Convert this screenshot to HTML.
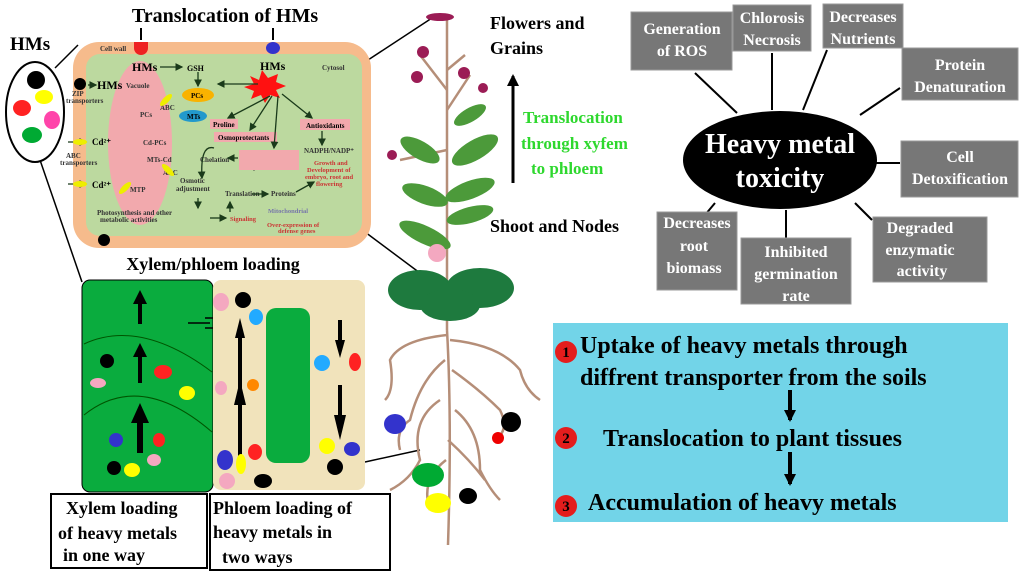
<!DOCTYPE html>
<html><head><style>body{margin:0;background:#fff}svg{display:block}text{font-family:"Liberation Serif",serif;font-weight:bold}</style></head><body>
<svg width="1024" height="579" viewBox="0 0 1024 579" xmlns="http://www.w3.org/2000/svg">
<defs><marker id="a" markerUnits="userSpaceOnUse" markerWidth="12" markerHeight="14" refX="10" refY="6" orient="auto"><path d="M0,0L12,6L0,12z" fill="#000"/></marker>
<marker id="g" markerWidth="6" markerHeight="6" refX="5" refY="3" orient="auto"><path d="M0,0L6,3L0,6z" fill="#1a3a1a"/></marker></defs>
<g stroke="#000" stroke-width="1.5" fill="none">
<path d="M55,68 L78,45"/><path d="M40,160 L82,282"/>
<path d="M368,60 L432,18"/><path d="M365,232 L432,282"/>
<path d="M365,462 L420,450"/>
</g>
<text x="225" y="22" font-size="20" text-anchor="middle">Translocation of HMs</text>
<text x="10" y="50" font-size="19">HMs</text>
<ellipse cx="35" cy="112" rx="29" ry="50" fill="#fff" stroke="#000" stroke-width="2"/>
<circle cx="36" cy="80" r="9" fill="#000"/><ellipse cx="44" cy="97" rx="9" ry="7" fill="#ff0"/>
<ellipse cx="22" cy="108" rx="9" ry="8" fill="#f22"/><ellipse cx="52" cy="120" rx="8" ry="9" fill="#f4a"/>
<ellipse cx="32" cy="135" rx="10" ry="8" fill="#0a3"/>
<rect x="73" y="42" width="298" height="206" rx="26" fill="#f6bb8c"/>
<rect x="86" y="54" width="276" height="182" rx="14" fill="#bcd99f"/>
<ellipse cx="140" cy="143" rx="32" ry="82" fill="#f2a9ad"/>
<path d="M141,28 v12" stroke="#000" stroke-width="2"/><path d="M273,28 v12" stroke="#000" stroke-width="2"/>
<path d="M134,42 h14 v6 a7,7 0 0 1 -14,0z" fill="#e22"/><ellipse cx="273" cy="48" rx="7" ry="6" fill="#33c"/>
<circle cx="104" cy="240" r="6" fill="#000"/><circle cx="80" cy="84" r="6" fill="#000"/>
<g font-size="7" fill="#333">
<text x="100" y="51">Cell wall</text><text x="322" y="70">Cytosol</text><text x="126" y="88">Vacuole</text>
<text x="140" y="117">PCs</text><text x="160" y="110">ABC</text><text x="143" y="145">Cd-PCs</text><text x="147" y="162">MTs-Cd</text>
<text x="130" y="192">MTP</text><text x="163" y="175">ABC</text><text x="180" y="183">Osmotic</text><text x="176" y="191">adjustment</text>
<text x="97" y="215">Photosynthesis and other</text><text x="100" y="222">metabolic activities</text>
<text x="225" y="196">Translation</text><text x="271" y="196">Proteins</text>
<text x="240" y="162">Organic acids</text><text x="240" y="169">and phenolics</text><text x="200" y="162">Chelation</text>
<text x="304" y="153">NADPH/NADP⁺</text><text x="72" y="96">ZIP</text><text x="66" y="103">transporters</text>
<text x="66" y="158">ABC</text><text x="60" y="165">transporters</text>
</g>
<g font-size="6.5" fill="#c33"><text x="314" y="165">Growth and</text><text x="307" y="172">Development of</text><text x="305" y="179">embryo, root and</text><text x="316" y="186">flowering</text>
<text x="230" y="221">Signaling</text><text x="267" y="227">Over-expression of</text><text x="278" y="233">defense genes</text></g>
<text x="268" y="213" font-size="6.5" fill="#77a">Mitochondrial</text>
<g font-size="7"><rect x="210" y="119" width="28" height="10" fill="#f2a9ad"/><text x="213" y="127">Proline</text>
<rect x="214" y="132" width="63" height="10" fill="#f2a9ad"/><text x="218" y="140">Osmoprotectants</text>
<rect x="239" y="150" width="60" height="20" fill="#f2a9ad"/>
<rect x="300" y="119" width="50" height="11" fill="#f2a9ad"/><text x="306" y="128">Antioxidants</text>
<ellipse cx="198" cy="95" rx="16" ry="7" fill="#f9b200"/><text x="191" y="98">PCs</text>
<ellipse cx="193" cy="116" rx="14" ry="6" fill="#29c"/><text x="187" y="119">MTs</text></g>
<path d="M262,70 l6,8 l10,-4 l-2,8 l10,4 l-10,4 l4,8 l-10,-3 l-5,8 l-4,-8 l-10,4 l3,-8 l-10,-4 l10,-3 l-4,-8 l9,4z" fill="#f11"/>
<g font-size="12"><text x="132" y="71">HMs</text><text x="260" y="70">HMs</text><text x="97" y="89">HMs</text><text x="187" y="71" font-size="8">GSH</text>
<text x="92" y="145" font-size="9">Cd²⁺</text><text x="92" y="188" font-size="9">Cd²⁺</text></g>
<g stroke="#1a3a1a" stroke-width="1.3" fill="none" marker-end="url(#g)">
<path d="M160,67 h22"/><path d="M198,72 v14"/><path d="M258,84 h-40"/><path d="M270,96 l-42,22"/><path d="M272,96 l-22,34"/>
<path d="M278,96 l-4,52"/><path d="M282,94 l30,24"/><path d="M322,131 v14"/><path d="M238,158 h-10"/><path d="M214,148 q-14,-4 -12,30"/>
<path d="M198,198 v10"/><path d="M210,218 h16"/><path d="M230,212 v-10"/><path d="M252,194 h16"/><path d="M296,192 l18,-10"/>
<path d="M88,85 h8"/><path d="M68,142 h18"/><path d="M68,184 h18"/>
</g>
<ellipse cx="80" cy="142" rx="7" ry="3" fill="#ee0"/><ellipse cx="80" cy="184" rx="7" ry="3" fill="#ee0"/>
<ellipse cx="166" cy="100" rx="3" ry="8" fill="#ee0" transform="rotate(45 166 100)"/><ellipse cx="168" cy="170" rx="3" ry="8" fill="#ee0" transform="rotate(-45 168 170)"/><ellipse cx="125" cy="188" rx="3" ry="8" fill="#ee0" transform="rotate(45 125 188)"/>
<text x="213" y="270" font-size="18" text-anchor="middle">Xylem/phloem loading</text>
<rect x="82" y="280" width="131" height="212" rx="8" fill="#0aac3e" stroke="#000"/>
<path d="M84,344 Q140,318 212,372" stroke="#050" fill="none"/>
<path d="M84,415 Q140,370 212,432" stroke="#050" fill="none"/>
<g fill="#000"><path d="M140,290 l-7,14 h5 v20 h4 v-20 h5z"/><path d="M140,343 l-7,14 h5 v26 h4 v-26 h5z"/><path d="M140,403 l-9,20 h6 v30 h6 v-30 h6z"/></g>
<circle cx="107" cy="361" r="7" fill="#000"/><ellipse cx="98" cy="383" rx="8" ry="5" fill="#f4a8c0"/><ellipse cx="163" cy="372" rx="9" ry="7" fill="#f22"/><ellipse cx="187" cy="393" rx="8" ry="7" fill="#ff0"/>
<circle cx="116" cy="440" r="7" fill="#33c"/><ellipse cx="159" cy="440" rx="6" ry="7" fill="#f22"/><ellipse cx="154" cy="460" rx="7" ry="6" fill="#f4a8c0"/><circle cx="114" cy="468" r="7" fill="#000"/><ellipse cx="132" cy="470" rx="8" ry="7" fill="#ff0"/>
<path d="M188,323 h22 M205,318 h20 M205,328 h20" stroke="#000" stroke-width="1.5"/>
<rect x="213" y="280" width="152" height="210" rx="8" fill="#f1e3bb"/>
<rect x="266" y="308" width="44" height="155" rx="10" fill="#0aac3e"/>
<g fill="#000"><path d="M240,318 l-5,20 h3 v70 h4 v-70 h3z"/><path d="M240,380 l-6,25 h4 v60 h4 v-60 h4z"/>
<path d="M340,358 l-5,-18 h3 v-20 h4 v20 h3z"/><path d="M340,440 l-6,-25 h4 v-30 h4 v30 h4z"/></g>
<ellipse cx="221" cy="302" rx="8" ry="9" fill="#f4a8c0"/><circle cx="243" cy="300" r="8" fill="#000"/><ellipse cx="256" cy="317" rx="7" ry="8" fill="#2af"/>
<ellipse cx="221" cy="388" rx="6" ry="7" fill="#f4a8c0"/><circle cx="253" cy="385" r="6" fill="#f80"/><ellipse cx="322" cy="363" rx="8" ry="8" fill="#2af"/><ellipse cx="355" cy="362" rx="6" ry="9" fill="#f22"/>
<ellipse cx="225" cy="460" rx="8" ry="10" fill="#33c"/><ellipse cx="241" cy="464" rx="5" ry="10" fill="#ff0"/><ellipse cx="255" cy="452" rx="7" ry="8" fill="#f22"/><ellipse cx="227" cy="481" rx="8" ry="8" fill="#f4a8c0"/><ellipse cx="263" cy="481" rx="9" ry="7" fill="#000"/>
<ellipse cx="327" cy="446" rx="8" ry="8" fill="#ff0"/><ellipse cx="352" cy="449" rx="8" ry="7" fill="#33c"/><circle cx="335" cy="467" r="8" fill="#000"/>
<rect x="51" y="494" width="156" height="74" fill="#fff" stroke="#000" stroke-width="2"/>
<rect x="210" y="494" width="180" height="76" fill="#fff" stroke="#000" stroke-width="2"/>
<g font-size="18"><text x="66" y="514">Xylem loading</text><text x="58" y="539">of heavy metals</text><text x="63" y="561">in one way</text>
<text x="213" y="514">Phloem loading of</text><text x="213" y="538">heavy metals in</text><text x="222" y="563">two ways</text></g>
<g stroke="#b58e78" stroke-width="2.5" fill="none">
<path d="M447,20 L447,330"/><path d="M447,90 L420,55"/><path d="M447,110 L470,75"/><path d="M447,150 L400,160"/><path d="M447,70 L465,55"/>
<path d="M447,330 Q452,420 448,545"/>
<path d="M447,335 Q400,340 390,360 Q395,390 385,400"/><path d="M450,340 Q500,345 520,370 Q525,390 540,400"/>
<path d="M445,360 Q420,380 410,420 Q395,430 400,450"/><path d="M452,370 Q480,390 500,410 Q510,430 495,440"/>
<path d="M440,400 Q410,420 420,460 Q410,480 390,490"/><path d="M455,410 Q480,430 480,470 Q490,490 500,500"/>
<path d="M448,440 Q470,460 485,480"/><path d="M446,460 Q420,480 430,510"/>
</g>
<g fill="#4c9a3a"><ellipse cx="420" cy="150" rx="22" ry="9" transform="rotate(30 420 150)"/><ellipse cx="475" cy="150" rx="26" ry="10" transform="rotate(-30 475 150)"/>
<ellipse cx="425" cy="195" rx="24" ry="9" transform="rotate(20 425 195)"/><ellipse cx="470" cy="190" rx="26" ry="9" transform="rotate(-20 470 190)"/>
<ellipse cx="425" cy="235" rx="28" ry="9" transform="rotate(25 425 235)"/><ellipse cx="470" cy="215" rx="24" ry="8" transform="rotate(-15 470 215)"/>
<ellipse cx="470" cy="115" rx="18" ry="7" transform="rotate(-30 470 115)"/></g>
<g fill="#1e7a3e"><ellipse cx="420" cy="290" rx="32" ry="20"/><ellipse cx="480" cy="288" rx="34" ry="20"/><ellipse cx="450" cy="305" rx="30" ry="16"/></g>
<g fill="#9b1c55"><ellipse cx="440" cy="17" rx="14" ry="4"/><circle cx="423" cy="52" r="6"/><circle cx="417" cy="77" r="6"/><circle cx="464" cy="73" r="6"/><circle cx="483" cy="88" r="5"/><circle cx="392" cy="155" r="5"/></g>
<circle cx="437" cy="253" r="9" fill="#f4a8c0"/><ellipse cx="395" cy="424" rx="11" ry="10" fill="#33c"/><ellipse cx="511" cy="422" rx="10" ry="10" fill="#000"/>
<circle cx="498" cy="438" r="6" fill="#e00"/><ellipse cx="428" cy="475" rx="16" ry="12" fill="#0a3"/><ellipse cx="438" cy="503" rx="13" ry="10" fill="#ff0"/><ellipse cx="468" cy="496" rx="9" ry="8" fill="#000"/>
<text x="490" y="29" font-size="18">Flowers and</text><text x="490" y="54" font-size="18">Grains</text>
<path d="M513,183 V76" stroke="#000" stroke-width="3" marker-end="url(#a)"/>
<g font-size="17" fill="#2ed82e"><text x="523" y="123">Translocation</text><text x="521" y="149">through xyfem</text><text x="531" y="174">to  phloem</text></g>
<text x="490" y="232" font-size="18">Shoot and Nodes</text>
<g stroke="#000" stroke-width="2"><path d="M695,73 L737,113"/><path d="M772,53 V110"/><path d="M827,50 L803,110"/><path d="M900,88 L860,115"/><path d="M900,163 H876"/><path d="M855,203 L872,220"/><path d="M786,210 V238"/><path d="M715,203 L705,215"/></g>
<ellipse cx="780" cy="160" rx="97" ry="49" fill="#000"/>
<text x="780" y="153" font-size="28" fill="#fff" text-anchor="middle">Heavy metal</text><text x="780" y="187" font-size="28" fill="#fff" text-anchor="middle">toxicity</text>
<g fill="#777" stroke="#999"><rect x="631" y="12" width="101" height="58"/><rect x="733" y="5" width="78" height="46"/><rect x="823" y="4" width="80" height="44"/><rect x="902" y="48" width="116" height="52"/><rect x="901" y="141" width="117" height="56"/><rect x="873" y="217" width="114" height="65"/><rect x="741" y="238" width="110" height="66"/><rect x="657" y="212" width="80" height="78"/></g>
<g font-size="16" fill="#fff" text-anchor="middle">
<text x="682" y="34">Generation</text><text x="682" y="56">of ROS</text><text x="772" y="23">Chlorosis</text><text x="772" y="45">Necrosis</text>
<text x="863" y="22">Decreases</text><text x="863" y="44">Nutrients</text><text x="960" y="70">Protein</text><text x="960" y="92">Denaturation</text>
<text x="960" y="162">Cell</text><text x="960" y="184">Detoxification</text><text x="920" y="233">Degraded</text><text x="920" y="255">enzymatic</text><text x="922" y="276">activity</text>
<text x="796" y="257">Inhibited</text><text x="796" y="279">germination</text><text x="796" y="301">rate</text>
<text x="697" y="228">Decreases</text><text x="694" y="251">root</text><text x="694" y="273">biomass</text></g>
<rect x="553" y="323" width="455" height="199" fill="#72d4e8"/>
<g fill="#e41d1d"><circle cx="566" cy="352" r="11"/><circle cx="566" cy="438" r="11"/><circle cx="566" cy="506" r="11"/></g>
<g font-size="15" text-anchor="middle"><text x="566" y="357">1</text><text x="566" y="443">2</text><text x="566" y="511">3</text></g>
<g font-size="24"><text x="580" y="353">Uptake of heavy metals through</text><text x="580" y="385">diffrent transporter from the soils</text>
<text x="603" y="446">Translocation to plant tissues</text><text x="588" y="510">Accumulation of heavy metals</text></g>
<path d="M790,390 V420" stroke="#000" stroke-width="4" marker-end="url(#a)"/><path d="M790,452 V484" stroke="#000" stroke-width="4" marker-end="url(#a)"/>
</svg>
</body></html>
